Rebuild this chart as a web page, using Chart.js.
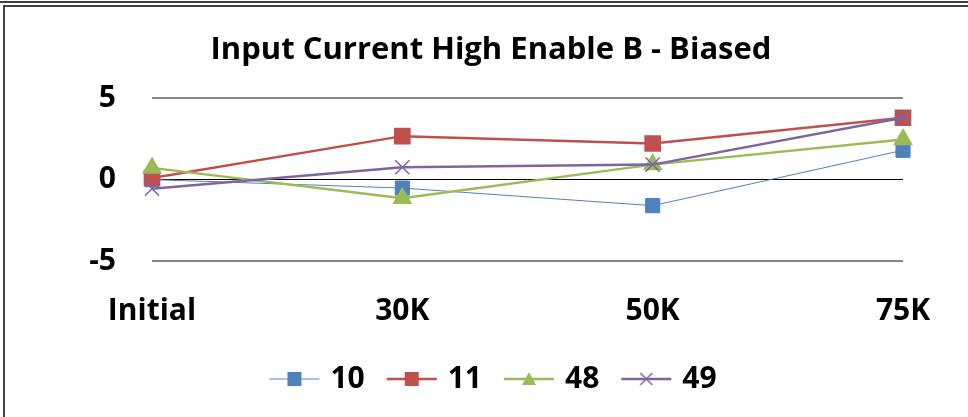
<!DOCTYPE html>
<html>
<head>
<meta charset="utf-8">
<script src="https://cdn.jsdelivr.net/npm/chart.js@4"></script>
<style>
    html, body { margin: 0; padding: 0; background: #fff; overflow: hidden; }
    .topline { position: absolute; left: 0; top: 1px; width: 968px; height: 0; border-top: 2px solid #404040; }
    .box { position: absolute; left: 3px; top: 5px; width: 980px; height: 430px; border-left: 2px solid #404040; border-top: 2px solid #404040; }
    #wrap { position: absolute; left: 0; top: 0; width: 968px; height: 417px; }
</style>
</head>
<body>
<div class="topline"></div>
<div class="box"></div>
<div id="wrap"><canvas id="currentChart"></canvas></div>
<script>
    const categories = ['Initial', '30K', '50K', '75K'];
    const series10 = [0, -0.52, -1.6, 1.8];
    const series11 = [0.1, 2.67, 2.22, 3.8];
    const series48 = [0.72, -1.15, 0.92, 2.47];
    const series49 = [-0.56, 0.76, 0.92, 3.8];
    const yTicks = [-5, 0, 5];

    const fontFamily = '"Open Sans", "Liberation Sans", sans-serif';

    // small canvas used as legend symbol: line with the marker in the middle
    function legendSymbol(color, style, lineWidth) {
        const c = document.createElement('canvas');
        c.width = 52;
        c.height = 20;
        const ctx = c.getContext('2d');
        ctx.strokeStyle = color;
        ctx.fillStyle = color;
        ctx.lineWidth = lineWidth;
        ctx.beginPath();
        ctx.moveTo(1, 10);
        ctx.lineTo(51, 10);
        ctx.stroke();
        if (style === 'rect') {
            ctx.fillRect(19, 3, 14, 14);
        } else if (style === 'triangle') {
            ctx.beginPath();
            ctx.moveTo(26, 3);
            ctx.lineTo(33, 16);
            ctx.lineTo(19, 16);
            ctx.closePath();
            ctx.fill();
        } else {
            ctx.lineWidth = 1.5;
            ctx.beginPath();
            ctx.moveTo(20, 4);
            ctx.lineTo(32, 16);
            ctx.moveTo(32, 4);
            ctx.lineTo(20, 16);
            ctx.stroke();
        }
        return c;
    }

    const datasets = [
        { label: '10', data: series10, borderColor: '#4F81BD', backgroundColor: '#4F81BD', borderWidth: 1, pointStyle: 'rect', pointRadius: 10, order: 4 },
        { label: '11', data: series11, borderColor: '#C0504D', backgroundColor: '#C0504D', borderWidth: 2.5, pointStyle: 'rect', pointRadius: 10, order: 3 },
        { label: '48', data: series48, borderColor: '#9BBB59', backgroundColor: '#9BBB59', borderWidth: 2.5, pointStyle: 'triangle', pointRadius: 9, order: 2 },
        { label: '49', data: series49, borderColor: '#8064A2', backgroundColor: '#8064A2', borderWidth: 2.5, pointStyle: 'crossRot', pointRadius: 10, pointBorderWidth: 1.5, order: 1 }
    ];

    const symbols = [
        legendSymbol('#4F81BD', 'rect', 1),
        legendSymbol('#C0504D', 'rect', 2.5),
        legendSymbol('#9BBB59', 'triangle', 2.5),
        legendSymbol('#8064A2', 'cross', 2.5)
    ];

    // move title and legend so they are centred like in the original
    const centreBoxes = {
        id: 'centreBoxes',
        afterLayout: function (chart) {
            const lg = chart.legend;
            const w = lg.right - lg.left;
            lg.left = 495 - w / 2;
            lg.right = 495 + w / 2;
            const tb = chart.titleBlock;
            const tw = tb.right - tb.left;
            tb.left = 491 - tw / 2;
            tb.right = 491 + tw / 2;
        }
    };

    const ctx = document.getElementById('currentChart').getContext('2d');

    new Chart(ctx, {
        type: 'line',
        data: {
            labels: categories,
            datasets: datasets.map(d => Object.assign({ fill: false, tension: 0 }, d))
        },
        plugins: [centreBoxes],
        options: {
            responsive: true,
            maintainAspectRatio: false,
            animation: false,
            layout: { padding: { left: 0, right: 65, top: 0, bottom: 13 } },
            plugins: {
                title: {
                    display: true,
                    text: 'Input Current High Enable B - Biased',
                    color: '#000',
                    font: { family: fontFamily, size: 31, weight: 'bold' },
                    padding: { top: 32, bottom: 29 }
                },
                legend: {
                    position: 'bottom',
                    labels: {
                        color: '#000',
                        font: { family: fontFamily, size: 30, weight: 'bold' },
                        usePointStyle: true,
                        pointStyleWidth: 42,
                        padding: 26,
                        generateLabels: function (chart) {
                            return chart.data.datasets.map((ds, i) => ({
                                text: ds.label,
                                fillStyle: ds.borderColor,
                                strokeStyle: ds.borderColor,
                                lineWidth: 0,
                                pointStyle: symbols[i],
                                hidden: !chart.isDatasetVisible(i),
                                datasetIndex: i
                            }));
                        }
                    }
                },
                tooltip: { enabled: false }
            },
            scales: {
                x: {
                    offset: false,
                    grid: { display: false, drawTicks: false },
                    border: { display: false },
                    ticks: {
                        color: '#000',
                        padding: 32,
                        font: { family: fontFamily, size: 30, weight: 'bold' }
                    },
                    afterFit: function (scale) { scale.height = 77; }
                },
                y: {
                    min: -5,
                    max: 5,
                    afterBuildTicks: function (scale) {
                        scale.ticks = yTicks.map(v => ({ value: v }));
                    },
                    grid: {
                        drawTicks: false,
                        color: c => c.tick.value === 0 ? '#000' : '#868686',
                        lineWidth: c => c.tick.value === 0 ? 1 : 2
                    },
                    border: { display: false },
                    ticks: {
                        color: '#000',
                        padding: 36,
                        font: { family: fontFamily, size: 30, weight: 'bold' }
                    },
                    afterFit: function (scale) { scale.width = 152; }
                }
            }
        }
    });
</script>
</body>
</html>
